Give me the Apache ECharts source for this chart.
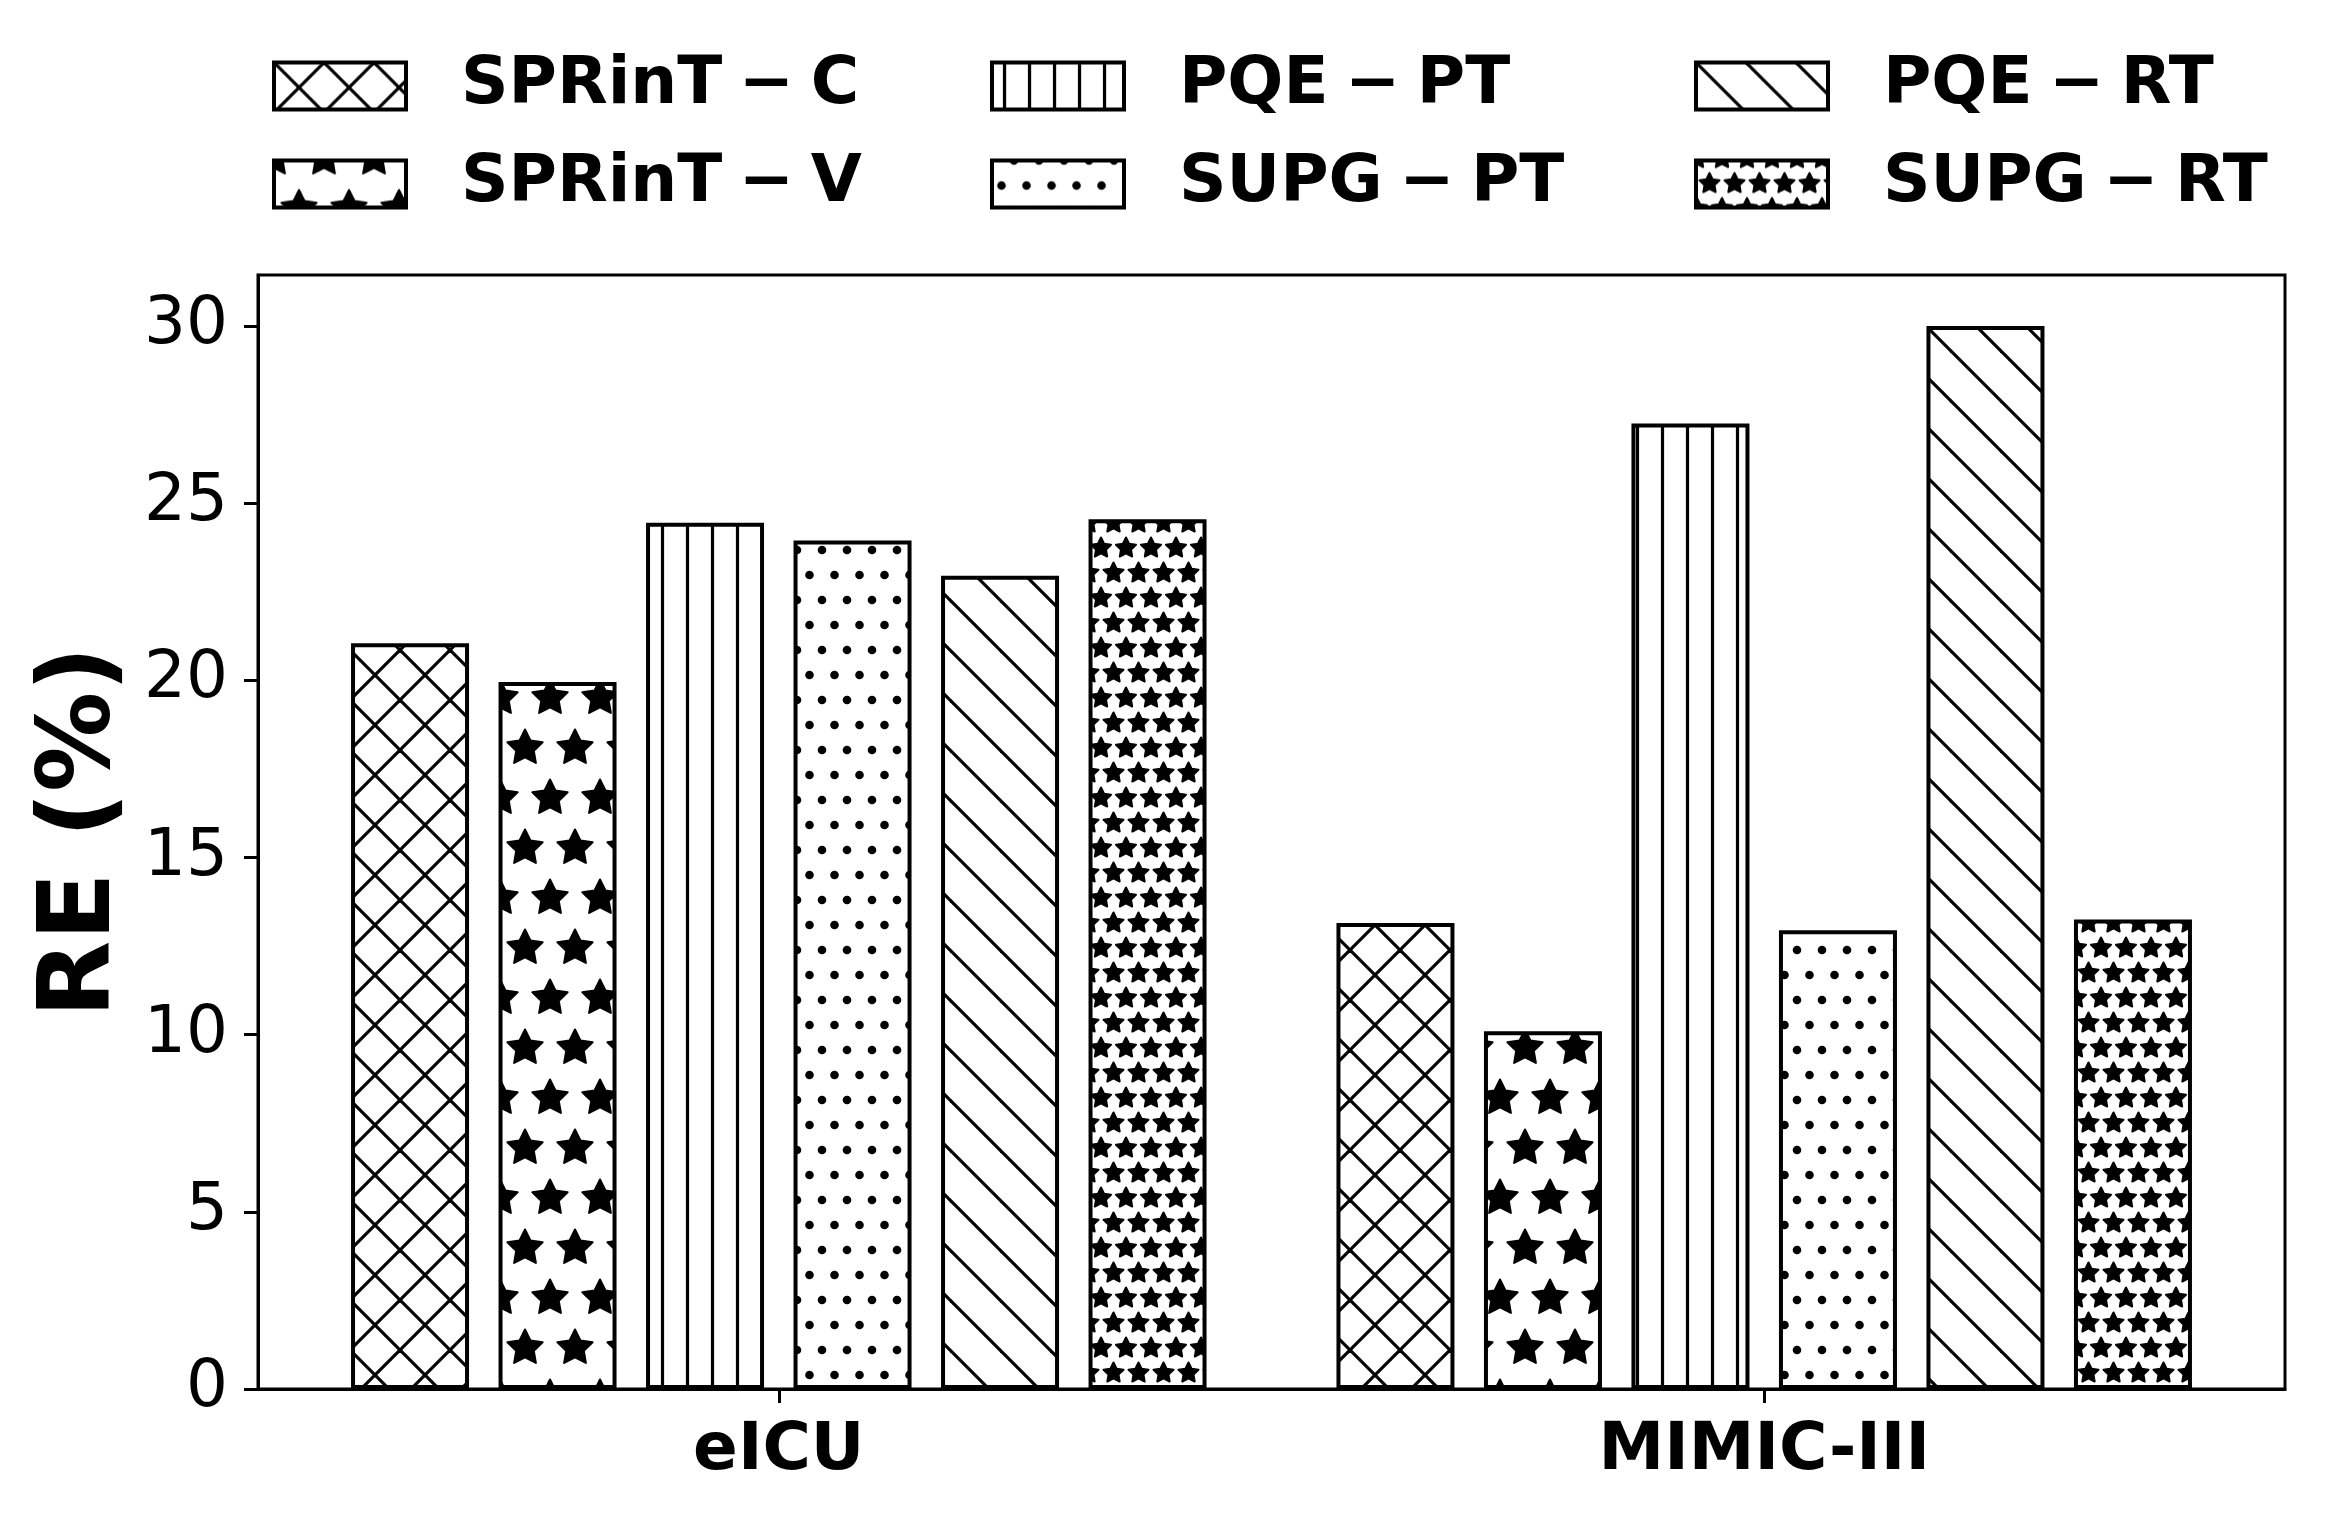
<!DOCTYPE html>
<html>
<head>
<meta charset="utf-8">
<script src="https://cdn.jsdelivr.net/npm/echarts@6/dist/echarts.min.js"></script>
<style>
html,body{margin:0;padding:0;background:#fff;}
#chart{width:2325px;height:1514px;}
</style>
</head>
<body>
<div id="chart"></div>
<script>
// ---- data ----
const categories = ['eICU', 'MIMIC-III'];
const seriesNames = ['SPRinT\u2005\u2212\u2005C', 'SPRinT\u2005\u2212\u2005V', 'PQE\u2005\u2212\u2005PT', 'SUPG\u2005\u2212\u2005PT', 'PQE\u2005\u2212\u2005RT', 'SUPG\u2005\u2212\u2005RT'];
const sprintC = [21.05, 13.15];
const sprintV = [19.95, 10.1];
const pqePT = [24.45, 27.25];
const supgPT = [23.95, 12.95];
const pqeRT = [22.95, 30.0];
const supgRT = [24.55, 13.25];
const yTicks = [0, 5, 10, 15, 20, 25, 30];
const yAxisTitle = 'RE (%)';

// ---- hatch patterns ----
const HL = 3.2;
function tile(w, h, draw) {
  const c = document.createElement('canvas');
  c.width = w; c.height = h;
  const g = c.getContext('2d');
  g.fillStyle = '#fff'; g.fillRect(0, 0, w, h);
  g.strokeStyle = '#000'; g.fillStyle = '#000'; g.lineWidth = HL;
  draw(g, w, h);
  return c;
}
function line(g, x1, y1, x2, y2) { g.beginPath(); g.moveTo(x1, y1); g.lineTo(x2, y2); g.stroke(); }
function star(g, cx, cy, R) {
  g.beginPath();
  for (let i = 0; i < 10; i++) {
    const a = -Math.PI / 2 + i * Math.PI / 5;
    const r = i % 2 === 0 ? R : R * 0.5;
    const x = cx + r * Math.cos(a), y = cy + r * Math.sin(a);
    i === 0 ? g.moveTo(x, y) : g.lineTo(x, y);
  }
  g.closePath();
  g.lineJoin = 'round';
  g.lineWidth = 2;
  g.fill(); g.stroke();
}
function dot(g, cx, cy, r) { g.beginPath(); g.arc(cx, cy, r, 0, Math.PI * 2); g.fill(); }

const patCross = tile(50, 50, (g) => {
  for (let k = -1; k <= 1; k++) {
    line(g, k * 50 - 5, -5, k * 50 + 55, 55);
    line(g, k * 50 + 55, -5, k * 50 - 5, 55);
  }
});
const patBigStar = tile(50, 100, (g) => {
  star(g, 25, 48, 18.5);
  [[0, 98], [50, 98], [0, -2], [50, -2]].forEach(p => star(g, p[0], p[1], 18.5));
});
const patVert = tile(25, 25, (g) => { line(g, 12.5, -2, 12.5, 27); });
const patDots = tile(25, 50, (g) => {
  [[22, 0], [-3, 0], [22, 50], [-3, 50], [9.5, 25], [34.5, 25]].forEach(p => dot(g, p[0], p[1], 4.3));
});
const patDiag = tile(50, 50, (g) => {
  for (let k = -1; k <= 1; k++) line(g, k * 50 - 5, -5, k * 50 + 55, 55);
});
const patSmallStar = tile(25, 50, (g) => {
  [[1, -2], [26, -2], [1, 48], [26, 48], [-11.5, 23], [13.5, 23], [38.5, 23]].forEach(p => star(g, p[0], p[1], 10.5));
});
const patterns = [patCross, patBigStar, patVert, patDots, patDiag, patSmallStar];
const seriesValues = [sprintC, sprintV, pqePT, supgPT, pqeRT, supgRT];

const FONT = 'DejaVu Sans';
const chart = echarts.init(document.getElementById('chart'), null, { renderer: 'canvas', width: 2325, height: 1514 });

function legendCol(names, left) {
  return {
    data: names, orient: 'vertical', left: left, top: 48,
    icon: 'rect', itemWidth: 132, itemHeight: 47, itemGap: 32,
    selectedMode: false,
    itemStyle: { borderColor: '#000', borderWidth: 4 },
    textStyle: { fontFamily: FONT, fontWeight: 'bold', fontSize: 66, color: '#000', lineHeight: 47, padding: [0, 0, 0, 50] }
  };
}

const option = {
  animation: false,
  backgroundColor: '#fff',
  grid: { left: 258, top: 275, width: 2027, height: 1114, show: true, borderColor: '#000', borderWidth: 3, backgroundColor: 'transparent', containLabel: false, outerBoundsMode: 'none' },
  legend: [
    legendCol([seriesNames[0], seriesNames[1]], 267),
    legendCol([seriesNames[2], seriesNames[3]], 985),
    legendCol([seriesNames[4], seriesNames[5]], 1689)
  ],
  xAxis: {
    type: 'value', min: -0.5285, max: 1.5285,
    splitLine: { show: false },
    axisLine: { show: true, onZero: false, lineStyle: { color: '#000', width: 3 } },
    axisTick: { show: true, length: 14, lineStyle: { color: '#000', width: 3 }, customValues: [0, 1] },
    axisLabel: {
      customValues: [0, 1], margin: 30,
      formatter: (v) => categories[Math.round(v)],
      fontFamily: FONT, fontWeight: 'bold', fontSize: 66, color: '#000'
    }
  },
  yAxis: {
    type: 'value', min: 0, max: 31.44,
    name: yAxisTitle, nameLocation: 'middle', nameGap: 125,
    nameTextStyle: { fontFamily: FONT, fontWeight: 'bold', fontSize: 100, color: '#000' },
    splitLine: { show: false },
    axisLine: { show: true, onZero: false, lineStyle: { color: '#000', width: 3 } },
    axisTick: { show: true, length: 14, lineStyle: { color: '#000', width: 3 }, customValues: yTicks },
    axisLabel: { customValues: yTicks, margin: 30, padding: [8, 0, 0, 0], fontFamily: FONT, fontSize: 66, color: '#000' }
  },
  series: seriesNames.map((name, i) => ({
    type: 'bar', name: name,
    data: seriesValues[i].map((v, j) => [j, v]),
    barWidth: 118, barGap: '25%',
    itemStyle: { color: { image: patterns[i], repeat: 'repeat' }, borderColor: '#000', borderWidth: 4 },
    emphasis: { disabled: true }
  }))
};
chart.setOption(option);
</script>
</body>
</html>
